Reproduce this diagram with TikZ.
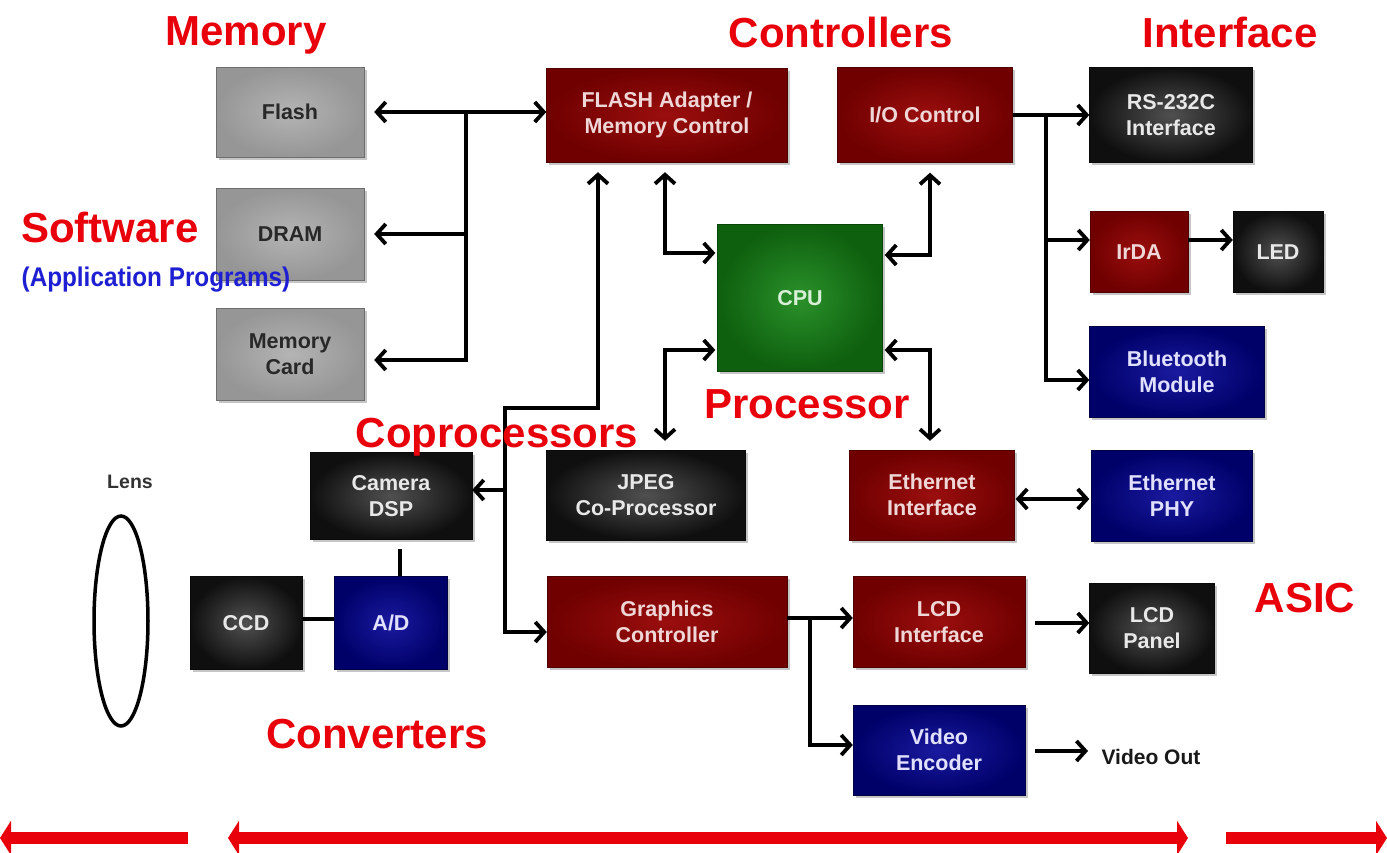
\documentclass[tikz,border=0pt]{standalone}
\usepackage{fontspec}
\setmainfont{Liberation Sans}
\usetikzlibrary{arrows.meta,shadows,calc,shapes.geometric}
\definecolor{lbred}{RGB}{232,0,10}
\definecolor{lbblue}{RGB}{30,30,210}
\begin{document}
\begin{tikzpicture}[x=1pt,y=-1pt,
  barb/.tip={Straight Barb[length=9pt,width=20pt,line width=3.8pt]},
  ar/.style={line width=3.8pt,-barb},
  lr/.style={line width=3.8pt,barb-barb},
  ln/.style={line width=3.8pt},
  box/.style={rectangle,inner sep=0pt,align=center,
    font=\fontsize{21.5}{26}\selectfont\bfseries,
    drop shadow={shadow xshift=2.5pt,shadow yshift=-2.5pt,opacity=0.45}},
  gbox/.style={box,inner color={rgb,255:red,180;green,180;blue,180},outer color={rgb,255:red,150;green,150;blue,150},draw={rgb,255:red,110;green,110;blue,110},text={rgb,255:red,40;green,40;blue,40}},
  rbox/.style={box,inner color={rgb,255:red,155;green,14;blue,14},outer color={rgb,255:red,112;green,0;blue,0},draw={rgb,255:red,80;green,0;blue,0},text={rgb,255:red,240;green,215;blue,215}},
  kbox/.style={box,inner color={rgb,255:red,80;green,80;blue,80},outer color={rgb,255:red,15;green,15;blue,15},draw={rgb,255:red,10;green,10;blue,10},text={rgb,255:red,232;green,232;blue,232}},
  bbox/.style={box,inner color={rgb,255:red,26;green,26;blue,160},outer color={rgb,255:red,0;green,0;blue,105},draw={rgb,255:red,0;green,0;blue,70},text={rgb,255:red,225;green,225;blue,255}},
  cbox/.style={box,inner color={rgb,255:red,42;green,145;blue,42},outer color={rgb,255:red,14;green,95;blue,14},draw={rgb,255:red,8;green,70;blue,8},text={rgb,255:red,215;green,240;blue,215}},
  biglab/.style={anchor=base,text=lbred,font=\fontsize{42}{42}\selectfont\bfseries},
  redarr/.style={line width=12pt,draw=lbred},
  rtip/.tip={Triangle[length=11pt,width=34pt]}
]
\useasboundingbox (0,0) rectangle (1387,852);

% Memory
\node[gbox,minimum width=148pt,minimum height=90pt] (flash) at (290,112) {Flash};
\node[gbox,minimum width=148pt,minimum height=92pt] (dram) at (290,234) {DRAM};
\node[gbox,minimum width=148pt,minimum height=92pt] (mcard) at (290,354) {Memory\\Card};

% Controllers
\node[rbox,minimum width=241pt,minimum height=94pt] (fam) at (667,115) {FLASH Adapter /\\Memory Control};
\node[rbox,minimum width=175pt,minimum height=95pt] (ioc) at (925,115) {I/O Control};

% Interface
\node[kbox,minimum width=163pt,minimum height=95pt] (rs) at (1171,115) {RS-232C\\Interface};
\node[rbox,minimum width=98pt,minimum height=81pt] (irda) at (1139,252) {IrDA};
\node[kbox,minimum width=90pt,minimum height=81pt] (led) at (1278,252) {LED};
\node[bbox,minimum width=175pt,minimum height=91pt] (bt) at (1177,372) {Bluetooth\\Module};

% Processor
\node[cbox,minimum width=165pt,minimum height=147pt] (cpu) at (800,298) {CPU};

% Middle row
\node[kbox,minimum width=162pt,minimum height=87pt] (cam) at (391,496) {Camera\\DSP};
\node[kbox,minimum width=199pt,minimum height=90pt] (jpeg) at (646,495) {JPEG\\Co-Processor};
\node[rbox,minimum width=165pt,minimum height=90pt] (ethif) at (932,495) {Ethernet\\Interface};
\node[bbox,minimum width=161pt,minimum height=91pt] (ethphy) at (1172,496) {Ethernet\\PHY};

% Lower rows
\node[kbox,minimum width=112pt,minimum height=93pt] (ccd) at (246,623) {CCD};
\node[bbox,minimum width=113pt,minimum height=93pt] (ad) at (391,623) {A/D};
\node[rbox,minimum width=240pt,minimum height=91pt] (gfx) at (667,622) {Graphics\\Controller};
\node[rbox,minimum width=172pt,minimum height=91pt] (lcdif) at (939,622) {LCD\\Interface};
\node[kbox,minimum width=125pt,minimum height=90pt] (lcdp) at (1152,628) {LCD\\Panel};
\node[bbox,minimum width=172pt,minimum height=90pt] (venc) at (939,750) {Video\\Encoder};

% Lens
\node[draw,line width=3.5pt,ellipse,minimum width=54pt,minimum height=210pt,inner sep=0pt] (lens) at (121,621) {};
\node[font=\fontsize{19.5}{22}\selectfont\bfseries,text={rgb,255:red,50;green,50;blue,50}] (lenslab) at (130,482) {Lens};
\node[font=\fontsize{21}{24}\selectfont\bfseries,anchor=west,text={rgb,255:red,25;green,25;blue,25}] (vout) at (1098,757) {Video Out};

% Memory bus
\coordinate (mbt) at (466,112);
\coordinate (mbb) at (466,360);
\draw[lr] ($(flash.east)+(10,0)$) -- (flash.east -| fam.west);
\draw[ar] (mbt) -- (mbb) -- ($(mbb -| mcard.east)+(10,0)$);
\draw[ar] (mbt |- dram.east) -- ($(dram.east)+(10,0)$);

% Coprocessor bus
\coordinate (cb1) at (505,408);
\coordinate (cb2) at (598,408);
\draw[lr] ($(cb2 |- fam.south)+(0,10)$) -- (cb2) -- (cb1) -- ($(cb1 |- gfx.west)+(0,10)$) -- ($(gfx.west)+(0,10)$);
\draw[ar] ($(cb1 |- cam.east)+(0,-6)$) -- ($(cam.east)+(0,-6)$);

% CPU links
\coordinate (c1) at (665,253);
\coordinate (c2) at (930,255);
\coordinate (c3) at (665,350);
\coordinate (c4) at (930,350);
\draw[lr,shorten <=10pt,shorten >=2pt] (c1 |- fam.south) -- (c1) -- (c1 -| cpu.west);
\draw[lr,shorten <=10pt,shorten >=2pt] (c2 |- ioc.south) -- (c2) -- (c2 -| cpu.east);
\draw[lr,shorten <=2pt,shorten >=9pt] (c3 -| cpu.west) -- (c3) -- (c3 |- jpeg.north);
\draw[lr,shorten <=2pt,shorten >=9pt] (c4 -| cpu.east) -- (c4) -- (c4 |- ethif.north);

% Interface bus
\coordinate (ib) at (1046,115);
\coordinate (ib2) at (1046,380);
\coordinate (ib3) at (1046,240);
\draw[ar] (ioc.east) -- (ioc.east -| rs.west);
\draw[ar] (ib) -- (ib2) -- (ib2 -| bt.west);
\draw[ar] (ib3) -- (ib3 -| irda.west);
\draw[ar] (ib3 -| irda.east) -- (ib3 -| led.west);

% Ethernet
\draw[lr,shorten <=1pt,shorten >=2pt] (ethif.east |- 0,499) -- (ethphy.west |- 0,499);

% Graphics outputs
\coordinate (g1) at (810,618);
\coordinate (g2) at (810,745);
\draw[ar] (gfx.east |- g1) -- (g1 -| lcdif.west);
\draw[ar] (g1) -- (g2) -- (g2 -| venc.west);
\draw[ar] ($(lcdif.east |- 0,623)+(10,0)$) -- (lcdp.west |- 0,623);
\draw[ar] ($(venc.east |- 0,751)+(10,0)$) -- ($(vout.west |- 0,751)+(-10,0)$);

% Camera chain
\draw[ln] (ccd.east |- 0,619) -- (ad.west |- 0,619);
\draw[ln] ($(ad.north)+(9,0)$) -- ($(ad.north)+(9,-27)$);

% Labels
\node[biglab] (lmem) at (246,45) {Memory};
\node[biglab] (lctl) at (841,47) {Controllers};
\node[biglab] (lint) at (1230,47) {Interface};
\node[biglab] (lsw) at (110,242) {Software};
\node[anchor=base,text=lbblue,font=\fontsize{27}{27}\selectfont\bfseries] (lapp) at (156,286) {\scalebox{0.9}[1]{(Application Programs)}};
\node[biglab] (lproc) at (807,418) {Processor};
\node[biglab] (lcop) at (497,447) {Coprocessors};
\node[biglab] (lconv) at (377,748) {Converters};
\node[biglab] (lasic) at (1305,612) {ASIC};

% Bottom red arrows
\coordinate (r1) at (188,838);
\coordinate (r2) at (0,838);
\coordinate (r3) at (228,838);
\coordinate (r4) at (1188,838);
\coordinate (r5) at (1226,838);
\coordinate (r6) at (1387,838);
\draw[redarr,-{rtip}] (r1) -- (r2);
\draw[redarr,{rtip}-{rtip}] (r3) -- (r4);
\draw[redarr,-{rtip}] (r5) -- (r6);
\end{tikzpicture}
\end{document}
